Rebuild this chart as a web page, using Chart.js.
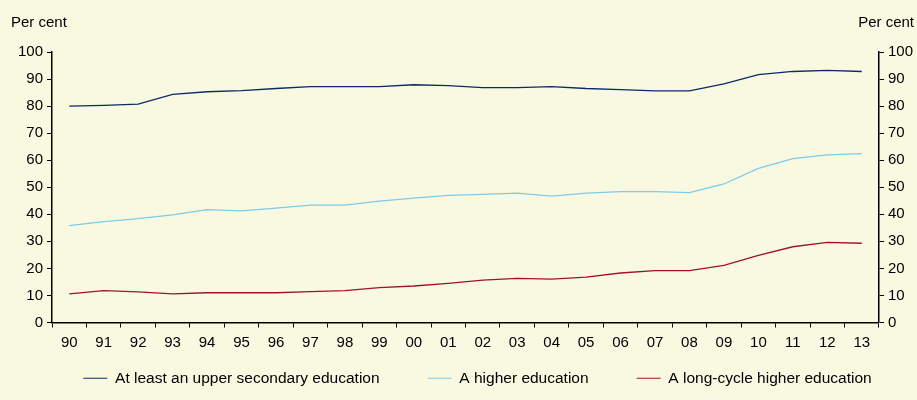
<!DOCTYPE html>
<html>
<head>
<meta charset="utf-8">
<script src="https://cdn.jsdelivr.net/npm/chart.js@4.4.0/dist/chart.umd.min.js"></script>
<style>
  html, body { margin: 0; padding: 0; background: #f9f9e2; }
  #wrap { width: 917px; height: 400px; }
</style>
</head>
<body>
<div id="wrap"><canvas id="chart" width="917" height="400"></canvas></div>
<script>
// years on x axis
const years = ['90','91','92','93','94','95','96','97','98','99','00','01','02','03','04','05','06','07','08','09','10','11','12','13'];

const upperSecondary = [80.0, 80.3, 80.7, 84.3, 85.3, 85.7, 86.5, 87.2, 87.2, 87.2, 87.9, 87.6, 86.8, 86.8, 87.2, 86.5, 86.1, 85.6, 85.6, 88.2, 91.6, 92.8, 93.2, 92.8];
const higherEdu = [35.8, 37.3, 38.4, 39.8, 41.7, 41.3, 42.3, 43.4, 43.4, 44.9, 46.0, 47.0, 47.4, 47.8, 46.7, 47.8, 48.4, 48.4, 48.0, 51.2, 57.0, 60.6, 62.0, 62.4];
const longCycle = [10.6, 11.8, 11.3, 10.6, 11.0, 11.0, 11.0, 11.4, 11.8, 12.9, 13.5, 14.5, 15.7, 16.3, 16.0, 16.8, 18.3, 19.2, 19.2, 21.1, 24.8, 28.0, 29.6, 29.3];

const seriesNames = ['At least an upper secondary education', 'A higher education', 'A long-cycle higher education'];
const axisTitle = 'Per cent';

const font = { family: 'Liberation Sans, Arial, sans-serif', size: 15 };
const legendLift = 35; // legend padding is wide sideways, but it should not eat the plot height

// draws "Per cent" above both y axes and tweaks the legend box
const extras = {
  id: 'extras',
  afterInit(chart) {
    const fit = chart.legend.fit;
    chart.legend.fit = function () {
      fit.call(this);
      this.height -= legendLift;
    };
  },
  afterLayout(chart) {
    const lg = chart.legend;
    lg.top -= legendLift;
    lg.height += legendLift;
    lg.left += 12;
    lg.right += 12;
  },
  afterDraw(chart) {
    const ctx = chart.ctx;
    ctx.save();
    ctx.fillStyle = '#000';
    ctx.font = '15px ' + font.family;
    ctx.textBaseline = 'alphabetic';
    ctx.textAlign = 'left';
    ctx.fillText(axisTitle, 11, 27);
    ctx.textAlign = 'right';
    ctx.fillText(axisTitle, 914, 27);
    ctx.restore();
  }
};

function yAxis(pos) {
  return {
    position: pos,
    min: 0,
    max: 100,
    ticks: { stepSize: 10, color: '#000', font: font, padding: 4 },
    grid: { drawOnChartArea: false, drawTicks: true, tickLength: 5, color: '#000' },
    border: { color: '#000', width: 1.5 }
  };
}

new Chart(document.getElementById('chart'), {
  type: 'line',
  data: {
    labels: years,
    datasets: [
      { label: seriesNames[0], data: upperSecondary, borderColor: '#0a2a6a', yAxisID: 'y' },
      { label: seriesNames[1], data: higherEdu, borderColor: '#7ccbea', yAxisID: 'y' },
      { label: seriesNames[2], data: longCycle, borderColor: '#a3102e', yAxisID: 'y' }
    ]
  },
  options: {
    responsive: false,
    animation: false,
    elements: {
      line: { borderWidth: 1.3, tension: 0 },
      point: { radius: 0 }
    },
    layout: { padding: { top: 52, left: 14, right: 0, bottom: 4 } },
    plugins: {
      legend: {
        position: 'bottom',
        labels: {
          usePointStyle: true,
          pointStyle: 'line',
          pointStyleWidth: 24,
          color: '#000',
          font: { family: font.family, size: 15.5 },
          padding: 48
        }
      },
      tooltip: { enabled: false }
    },
    scales: {
      x: {
        offset: true,
        ticks: { color: '#000', font: font, padding: 6, maxRotation: 0, autoSkip: false },
        grid: { offset: true, drawOnChartArea: false, drawTicks: true, tickLength: 5, color: '#000' },
        border: { color: '#000', width: 1.5 }
      },
      y: yAxis('left'),
      y2: yAxis('right')
    }
  },
  plugins: [extras]
});
</script>
</body>
</html>
